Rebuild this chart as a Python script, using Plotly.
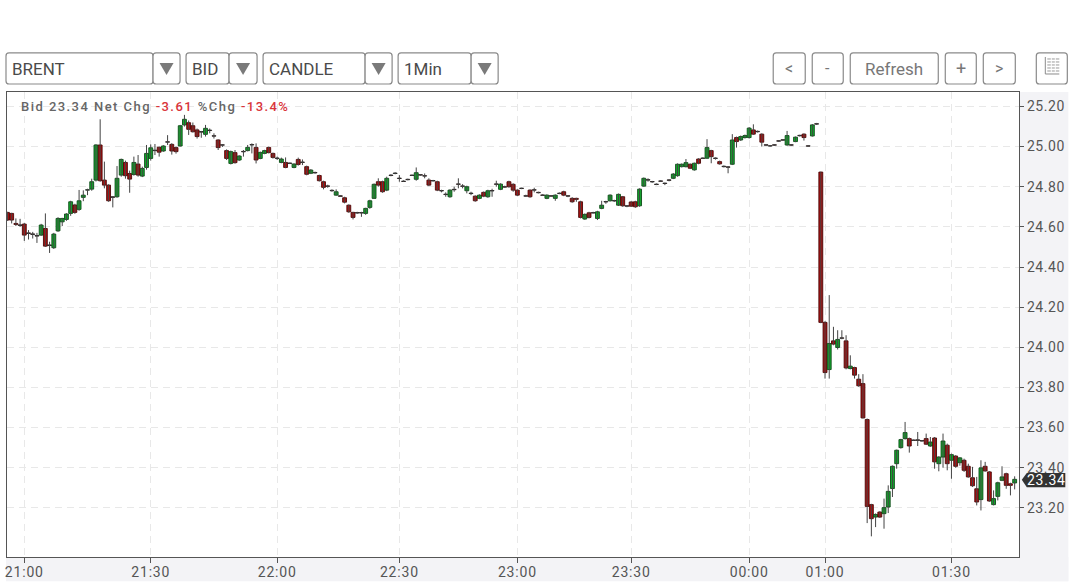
import plotly.graph_objects as go

# Bar slots (one per traded minute; gaps in time are closed up on the axis)
bar_slots = list(range(-4, 236))

opens = [
 24.672,24.667,24.617,24.61,24.614,24.57,24.565,24.557,24.559,24.592,
 24.51,24.496,24.58,24.625,24.637,24.667,24.709,24.687,24.747,24.783,
 24.788,24.833,25.008,24.833,24.808,24.75,24.75,24.858,24.921,24.866,
 24.861,24.913,24.853,24.896,24.941,24.982,24.997,24.978,25.024,25.011,
 24.995,25.003,25.108,25.119,25.104,25.083,25.075,25.061,25.082,25.054,
 25.033,25.009,24.98,24.916,24.97,24.933,24.976,24.98,25.01,24.996,
 24.941,24.966,24.996,24.966,24.943,24.921,24.921,24.918,24.896,24.936,
 24.923,24.9,24.867,24.871,24.856,24.825,24.804,24.782,24.758,24.755,
 24.745,24.708,24.672,24.671,24.671,24.667,24.697,24.742,24.825,24.825,
 24.783,24.858,24.866,24.843,24.828,24.837,24.858,24.837,24.86,24.855,
 24.833,24.831,24.825,24.781,24.763,24.75,24.787,24.814,24.804,24.78,
 24.768,24.753,24.742,24.772,24.75,24.781,24.814,24.787,24.8,24.825,
 24.812,24.783,24.793,24.755,24.783,24.785,24.772,24.759,24.742,24.755,
 24.742,24.768,24.775,24.755,24.742,24.742,24.725,24.639,24.67,24.671,
 24.642,24.692,24.726,24.73,24.731,24.708,24.75,24.705,24.724,24.725,
 24.705,24.803,24.835,24.826,24.813,24.829,24.818,24.834,24.842,24.855,
 24.9,24.9,24.912,24.884,24.938,24.943,24.942,24.98,24.943,24.925,
 24.902,24.899,24.912,25.045,25.033,25.045,25.045,25.083,25.076,25.062,
 25.009,25.004,25.009,25.029,25.034,25.008,25.009,25.025,25.056,25.062,
 25.004,25.053,25.114,24.873,24.124,23.889,24.032,23.999,24.047,24.032,
 23.894,23.899,23.841,23.819,23.64,23.216,23.154,23.179,23.171,23.204,
 23.296,23.42,23.5,23.545,23.545,23.538,23.539,23.535,23.545,23.508,
 23.548,23.42,23.453,23.512,23.437,23.458,23.425,23.437,23.407,23.35,
 23.295,23.241,23.407,23.379,23.216,23.257,23.337,23.37,23.32,23.324,
]
highs = [
 24.675,24.67,24.642,24.64,24.62,24.584,24.575,24.57,24.615,24.667,
 24.526,24.57,24.648,24.645,24.668,24.73,24.715,24.784,24.782,24.79,
 24.84,25.012,25.136,24.925,24.812,24.752,24.903,24.94,24.93,24.88,
 24.95,24.958,24.9,25.008,25.011,25.013,25.0,25.007,25.057,25.017,
 25.0,25.108,25.158,25.13,25.12,25.09,25.078,25.108,25.09,25.066,
 25.036,25.012,24.986,24.98,24.983,24.957,24.983,25.008,25.016,25.016,
 24.975,24.984,25.0,24.97,24.95,24.945,24.946,24.92,24.917,24.945,
 24.936,24.905,24.888,24.875,24.86,24.83,24.81,24.787,24.787,24.758,
 24.75,24.712,24.675,24.675,24.675,24.695,24.735,24.816,24.842,24.83,
 24.85,24.862,24.872,24.858,24.832,24.84,24.86,24.896,24.862,24.866,
 24.842,24.834,24.83,24.785,24.772,24.787,24.8,24.842,24.813,24.805,
 24.775,24.757,24.762,24.776,24.785,24.79,24.83,24.817,24.805,24.83,
 24.817,24.787,24.795,24.76,24.787,24.795,24.775,24.762,24.762,24.758,
 24.762,24.771,24.78,24.758,24.748,24.745,24.73,24.667,24.675,24.675,
 24.68,24.73,24.73,24.762,24.735,24.766,24.754,24.708,24.728,24.73,
 24.792,24.846,24.842,24.829,24.816,24.832,24.82,24.837,24.868,24.916,
 24.916,24.938,24.916,24.92,24.942,24.946,25.037,24.984,24.946,24.93,
 24.906,24.903,25.062,25.05,25.055,25.06,25.097,25.111,25.08,25.066,
 25.012,25.007,25.012,25.032,25.037,25.078,25.012,25.05,25.059,25.066,
 25.007,25.112,25.118,24.875,24.13,24.26,24.102,24.085,24.085,24.06,
 23.96,23.903,23.866,23.866,23.645,23.22,23.172,23.183,23.246,23.312,
 23.411,23.49,23.544,23.628,23.55,23.54,23.578,23.538,23.57,23.553,
 23.553,23.457,23.57,23.52,23.47,23.462,23.453,23.445,23.42,23.404,
 23.354,23.437,23.429,23.383,23.287,23.33,23.407,23.375,23.325,23.357,
]
lows = [
 24.63,24.617,24.604,24.60,24.53,24.537,24.542,24.52,24.555,24.50,
 24.47,24.49,24.575,24.604,24.63,24.655,24.665,24.68,24.728,24.758,
 24.78,24.826,24.825,24.792,24.725,24.697,24.745,24.85,24.84,24.77,
 24.855,24.85,24.848,24.885,24.93,24.958,24.95,24.974,25.008,24.96,
 24.965,25.0,25.10,25.058,25.07,25.04,25.044,25.05,25.066,25.04,
 24.983,24.998,24.933,24.911,24.915,24.928,24.95,24.976,24.966,24.916,
 24.937,24.962,24.966,24.94,24.933,24.917,24.892,24.913,24.892,24.905,
 24.908,24.857,24.863,24.865,24.826,24.787,24.795,24.775,24.755,24.75,
 24.717,24.67,24.637,24.665,24.65,24.66,24.69,24.74,24.80,24.77,
 24.778,24.852,24.862,24.825,24.825,24.832,24.854,24.83,24.855,24.842,
 24.803,24.826,24.778,24.772,24.75,24.745,24.775,24.792,24.792,24.767,
 24.758,24.725,24.738,24.748,24.745,24.75,24.80,24.783,24.795,24.795,
 24.775,24.753,24.788,24.75,24.745,24.772,24.767,24.755,24.738,24.75,
 24.73,24.763,24.753,24.748,24.72,24.725,24.642,24.635,24.642,24.667,
 24.634,24.688,24.715,24.726,24.725,24.704,24.70,24.698,24.70,24.695,
 24.70,24.80,24.825,24.82,24.808,24.825,24.808,24.827,24.838,24.85,
 24.896,24.896,24.888,24.88,24.912,24.938,24.938,24.917,24.935,24.91,
 24.896,24.867,24.908,24.995,25.028,25.04,25.04,25.058,25.07,25.0,
 25.004,25.0,25.004,25.024,25.029,25.004,25.004,25.022,25.05,25.03,
 25.0,25.05,25.108,24.12,23.844,23.844,24.01,23.989,24.04,23.89,
 23.89,23.844,23.803,23.645,23.124,23.058,23.104,23.15,23.096,23.174,
 23.254,23.395,23.495,23.54,23.475,23.534,23.508,23.53,23.513,23.504,
 23.395,23.382,23.40,23.387,23.345,23.40,23.41,23.379,23.35,23.304,
 23.212,23.187,23.38,23.23,23.212,23.237,23.333,23.295,23.262,23.292,
]
closes = [
 24.634,24.634,24.612,24.607,24.559,24.567,24.562,24.554,24.609,24.504,
 24.507,24.564,24.642,24.642,24.664,24.725,24.672,24.73,24.758,24.785,
 24.825,25.008,24.83,24.808,24.73,24.747,24.842,24.936,24.855,24.838,
 24.921,24.858,24.891,24.966,24.994,24.98,24.972,25.003,25.022,24.978,
 24.975,25.104,25.136,25.086,25.074,25.05,25.072,25.091,25.08,25.052,
 24.995,25.007,24.941,24.975,24.92,24.953,24.974,24.996,25.008,24.933,
 24.971,24.98,24.97,24.946,24.941,24.938,24.896,24.916,24.913,24.911,
 24.921,24.862,24.883,24.869,24.83,24.797,24.802,24.78,24.775,24.752,
 24.723,24.675,24.647,24.669,24.669,24.692,24.73,24.812,24.808,24.775,
 24.842,24.856,24.868,24.841,24.826,24.835,24.856,24.87,24.858,24.853,
 24.808,24.829,24.783,24.779,24.761,24.783,24.785,24.812,24.802,24.8,
 24.766,24.73,24.758,24.753,24.78,24.779,24.812,24.813,24.798,24.8,
 24.783,24.758,24.791,24.753,24.75,24.783,24.77,24.757,24.758,24.753,
 24.758,24.766,24.758,24.753,24.725,24.737,24.647,24.662,24.647,24.669,
 24.675,24.708,24.724,24.758,24.729,24.762,24.705,24.703,24.703,24.7,
 24.788,24.842,24.833,24.824,24.811,24.827,24.816,24.832,24.863,24.912,
 24.912,24.92,24.892,24.917,24.917,24.941,24.995,24.95,24.941,24.914,
 24.9,24.897,25.033,25.025,25.05,25.055,25.092,25.062,25.074,25.022,
 25.007,25.003,25.007,25.027,25.032,25.055,25.007,25.047,25.054,25.045,
 25.002,25.108,25.112,24.124,23.874,24.019,24.016,24.039,24.045,23.897,
 23.906,23.861,23.808,23.648,23.207,23.146,23.167,23.154,23.201,23.282,
 23.407,23.487,23.54,23.575,23.508,23.536,23.536,23.533,23.517,23.528,
 23.429,23.453,23.533,23.42,23.465,23.407,23.449,23.387,23.354,23.31,
 23.229,23.399,23.384,23.234,23.246,23.325,23.354,23.312,23.312,23.342,
]

time_tick_slots = [0, 30, 60, 89, 117, 144, 172, 190, 220]
time_tick_labels = ["21:00", "21:30", "22:00", "22:30", "23:00", "23:30", "00:00", "01:00", "01:30"]
price_ticks = [23.2, 23.4, 23.6, 23.8, 24.0, 24.2, 24.4, 24.6, 24.8, 25.0, 25.2]

FONT = "Roboto"
UP_COLOR, DOWN_COLOR = "#12a82c", "#a80f0f"
UP_EDGE, DOWN_EDGE, DOJI_EDGE = "#0c4a16", "#4a0808", "#222222"
L, R, T, B = 7.0, 1018.7, 92.0, 556.7
W, H = 1080, 582


def px(x):
    return (x - L) / (R - L)


def py(y):
    return (B - y) / (B - T)


def rect(x0, y0, x1, y1, **kw):
    d = dict(type="rect", xref="paper", yref="paper",
             x0=px(x0), x1=px(x1), y0=py(y1), y1=py(y0), layer="below")
    d.update(kw)
    return d


def rrect(x0, y0, x1, y1, r=3, color="#8a8a8a", width=1.2):
    p = (f"M{px(x0+r)},{py(y0)} L{px(x1-r)},{py(y0)} Q{px(x1)},{py(y0)} {px(x1)},{py(y0+r)} "
         f"L{px(x1)},{py(y1-r)} Q{px(x1)},{py(y1)} {px(x1-r)},{py(y1)} "
         f"L{px(x0+r)},{py(y1)} Q{px(x0)},{py(y1)} {px(x0)},{py(y1-r)} "
         f"L{px(x0)},{py(y0+r)} Q{px(x0)},{py(y0)} {px(x0+r)},{py(y0)} Z")
    return dict(type="path", xref="paper", yref="paper", path=p,
                line=dict(color=color, width=width), fillcolor="white", layer="above")


def tri(cx, cy, w=14, h=12, color="#7a7a7a"):
    p = f"M{px(cx-w/2)},{py(cy-h/2)} L{px(cx+w/2)},{py(cy-h/2)} L{px(cx)},{py(cy+h/2)} Z"
    return dict(type="path", xref="paper", yref="paper", path=p,
                line=dict(width=0), fillcolor=color, layer="above")


def hline(x0, y0, x1, y1, color="#8a8a8a", width=1):
    return dict(type="line", xref="paper", yref="paper",
                x0=px(x0), x1=px(x1), y0=py(y0), y1=py(y1),
                line=dict(color=color, width=width), layer="above")


def label(x, y, text, size=17, color="#444444", anchor="left", **kw):
    return dict(xref="paper", yref="paper", x=px(x), y=py(y), text=text, showarrow=False,
                xanchor=anchor, yanchor="middle", align=anchor,
                font=dict(family=FONT, size=size, color=color), **kw)


shapes = [
    rect(1018.7, T, 1068, 581, fillcolor="#f3f3f6", line=dict(width=0)),
    rect(6, B, 1068, 581, fillcolor="#f3f3f6", line=dict(width=0)),
]
annos = []

# Drop-downs
for x0, x1, x2, txt in [(6, 153, 180, "BRENT"), (186, 229, 257, "BID"),
                        (263, 365, 392, "CANDLE"), (398, 471, 498, "1Min")]:
    shapes += [rrect(x0, 53, x1, 84), rrect(x1, 53, x2, 84), tri((x1 + x2) / 2, 69, 14, 12)]
    annos.append(label(x0 + 4, 69, txt, size=17, color="#4a4a4a"))

# Buttons
for x0, x1, txt, sz in [(773, 805, "&lt;", 16), (812, 843, "-", 16), (850, 938, "Refresh", 17),
                        (945, 976, "+", 18), (983, 1015, "&gt;", 16)]:
    shapes.append(rrect(x0, 53, x1, 84))
    annos.append(label((x0 + x1) / 2, 69, txt, size=sz, color="#777777", anchor="center"))

# Table icon
shapes.append(rrect(1036, 53, 1067, 84))
shapes.append(hline(1045, 57, 1045, 74))
shapes.append(hline(1045, 74, 1059, 74))
for yy in (59, 62, 65, 68, 71):
    shapes.append(hline(1047, yy, 1059, yy, color="#999999", width=1))
for xx in (1051, 1055):
    shapes.append(hline(xx, 58, xx, 72, color="#ffffff", width=1))

# Last-price tag
tag = (f"M{px(1021.5)},{py(479.5)} L{px(1026.5)},{py(472.7)} L{px(1065)},{py(472.7)} "
       f"L{px(1065)},{py(487)} L{px(1026.5)},{py(487)} Z")
shapes.append(dict(type="path", xref="paper", yref="paper", path=tag,
                   line=dict(width=0), fillcolor="#333333", layer="above"))
annos.append(label(1046, 479.8,
                   f"<span style='letter-spacing:0.7px'>{closes[-1]:.2f}</span>",
                   size=14, color="#ffffff", anchor="center"))

# Header line
annos.append(label(
    19, 106,
    "<span style='letter-spacing:1.45px;font-weight:500'>Bid 23.34 Net Chg "
    "<span style='color:#d9343a'>-3.61</span> %Chg "
    "<span style='color:#d9343a'>-13.4%</span></span>",
    size=13, color="#666666"))

# Wicks: one vertical segment per bar, drawn from the high/low lists
wick_x, wick_y = [], []
for s, h_, l_ in zip(bar_slots, highs, lows):
    wick_x += [s, s, None]
    wick_y += [h_, l_, None]

edges = [DOJI_EDGE if abs(c - o) < 0.004 else (UP_EDGE if c >= o else DOWN_EDGE)
         for o, c in zip(opens, closes)]

fig = go.Figure()
fig.add_trace(go.Scatter(x=wick_x, y=wick_y, mode="lines", hoverinfo="skip",
                         line=dict(color="#444444", width=1), showlegend=False))
fig.add_trace(go.Bar(
    x=bar_slots,
    base=[min(o, c) for o, c in zip(opens, closes)],
    y=[abs(c - o) for o, c in zip(opens, closes)],
    width=0.92,
    marker=dict(color=[UP_COLOR if c >= o else DOWN_COLOR for o, c in zip(opens, closes)],
                line=dict(color=edges, width=0.9)),
    hoverinfo="skip", showlegend=False,
))

fig.update_layout(
    width=W, height=H,
    margin=dict(l=L, r=W - R, t=T, b=H - B, pad=0, autoexpand=False),
    paper_bgcolor="white", plot_bgcolor="white",
    shapes=shapes, annotations=annos, showlegend=False,
    font=dict(family=FONT, size=14, color="#555555"),
    barmode="overlay",
)
fig.update_xaxes(
    range=[-4.106, 236.03],
    tickmode="array", tickvals=time_tick_slots, ticktext=time_tick_labels,
    ticks="outside", ticklen=5, tickcolor="#555555", tickwidth=1, ticklabelstandoff=-3,
    showgrid=True, gridcolor="#e8e8e8", griddash="7px,5px", gridwidth=1.3,
    showline=True, linecolor="#555555", linewidth=1.2, mirror=True, zeroline=False,
    tickfont=dict(family=FONT, size=14, color="#555555"),
)
fig.update_yaxes(
    side="right", range=[22.955, 25.272],
    tickmode="array", tickvals=price_ticks, ticktext=[f"{v:.2f}" for v in price_ticks],
    ticks="outside", ticklen=4, tickcolor="#555555", tickwidth=1,
    showgrid=True, gridcolor="#e8e8e8", griddash="7px,5px", gridwidth=1.3,
    showline=True, linecolor="#555555", linewidth=1.2, mirror=True, zeroline=False,
    tickfont=dict(family=FONT, size=14, color="#555555"),
)

css = ".xtick text{letter-spacing:0.8px}.ytick text{letter-spacing:0.6px}"
post = ("document.body.style.margin='0';document.body.style.overflow='hidden';"
        "var s=document.createElement('style');s.textContent='" + css + "';"
        "document.head.appendChild(s);")
fig.write_html("out.html", config={"displayModeBar": False}, post_script=post)
